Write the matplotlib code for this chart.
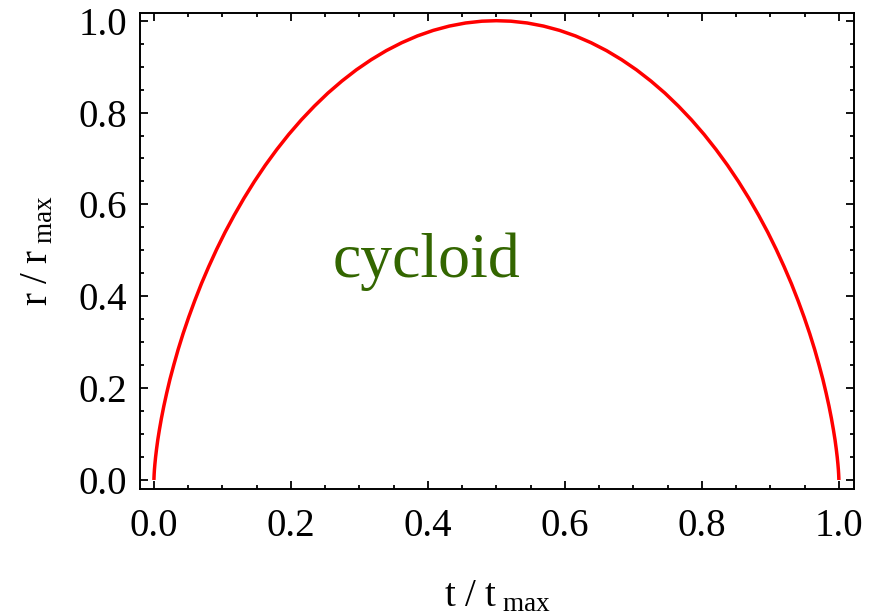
import matplotlib
matplotlib.use("Agg")
import matplotlib.pyplot as plt
from matplotlib.ticker import MultipleLocator

# valores (t / t_max, r / r_max)
t_vals = [0.0000, 0.0000, 0.0001, 0.0003, 0.0007, 0.0014, 0.0024, 0.0038, 0.0056, 0.0080,
          0.0109, 0.0144, 0.0186, 0.0234, 0.0291, 0.0354, 0.0426, 0.0507, 0.0596, 0.0693,
          0.0800, 0.0915, 0.1039, 0.1173, 0.1315, 0.1466, 0.1625, 0.1793, 0.1968, 0.2152,
          0.2343, 0.2540, 0.2745, 0.2955, 0.3171, 0.3392, 0.3617, 0.3846, 0.4078, 0.4313,
          0.4550, 0.4788, 0.5000,
          0.5212, 0.5450, 0.5687, 0.5922, 0.6154, 0.6383, 0.6608, 0.6829, 0.7045, 0.7255,
          0.7460, 0.7657, 0.7848, 0.8032, 0.8207, 0.8375, 0.8534, 0.8685, 0.8827, 0.8961,
          0.9085, 0.9200, 0.9307, 0.9404, 0.9493, 0.9574, 0.9646, 0.9709, 0.9766, 0.9814,
          0.9856, 0.9891, 0.9920, 0.9944, 0.9962, 0.9976, 0.9986, 0.9993, 0.9997, 0.9999,
          1.0000, 1.0000]
r_vals = [0.0000, 0.0014, 0.0056, 0.0126, 0.0223, 0.0347, 0.0498, 0.0673, 0.0873, 0.1097,
          0.1342, 0.1607, 0.1892, 0.2194, 0.2512, 0.2844, 0.3188, 0.3543, 0.3905, 0.4274,
          0.4646, 0.5021, 0.5396, 0.5768, 0.6136, 0.6498, 0.6851, 0.7194, 0.7524, 0.7841,
          0.8141, 0.8424, 0.8687, 0.8930, 0.9150, 0.9348, 0.9520, 0.9668, 0.9789, 0.9883,
          0.9950, 0.9989, 1.0000,
          0.9989, 0.9950, 0.9883, 0.9789, 0.9668, 0.9520, 0.9348, 0.9150, 0.8930, 0.8687,
          0.8424, 0.8141, 0.7841, 0.7524, 0.7194, 0.6851, 0.6498, 0.6136, 0.5768, 0.5396,
          0.5021, 0.4646, 0.4274, 0.3905, 0.3543, 0.3188, 0.2844, 0.2512, 0.2194, 0.1892,
          0.1607, 0.1342, 0.1097, 0.0873, 0.0673, 0.0498, 0.0347, 0.0223, 0.0126, 0.0056,
          0.0014, 0.0000]
x_ticks = [0.0, 0.2, 0.4, 0.6, 0.8, 1.0]
y_ticks = [0.0, 0.2, 0.4, 0.6, 0.8, 1.0]

plt.rcParams['font.family'] = ['Liberation Serif', 'DejaVu Serif']
plt.rcParams['mathtext.fontset'] = 'custom'
plt.rcParams['mathtext.rm'] = 'Liberation Serif'
plt.rcParams['mathtext.it'] = 'Liberation Serif:italic'

fig = plt.figure(figsize=(8.77, 6.15), dpi=100)
ax = fig.add_axes([0.1596, 0.2049, 0.8141, 0.774])

ax.plot(t_vals, r_vals, color='#ff0000', lw=2.5,
        solid_joinstyle='round', solid_capstyle='butt')

ax.set_xlim(-0.0204, 1.022)
ax.set_ylim(-0.0196, 1.0168)
ax.set_xticks(x_ticks)
ax.set_yticks(y_ticks)
ax.set_xticklabels([f"{v:.1f}" for v in x_ticks])
ax.set_yticklabels([f"{v:.1f}" for v in y_ticks])
ax.xaxis.set_minor_locator(MultipleLocator(0.05))
ax.yaxis.set_minor_locator(MultipleLocator(0.05))

ax.tick_params(which='both', direction='in', top=True, right=True, width=1.3, color='black')
ax.tick_params(which='major', length=6, labelsize=28)
ax.tick_params(which='minor', length=3)
ax.tick_params(axis='x', which='major', pad=14)
ax.tick_params(axis='y', which='major', pad=9)
for s in ax.spines.values():
    s.set_linewidth(1.4)

ax.set_xlabel(r'$\mathrm{t\ /\ t_{\ max}}$', fontsize=28, labelpad=24)
ax.set_ylabel(r'$\mathrm{r\ /\ r_{\ max}}$', fontsize=28, labelpad=16)

ax.text(0.3985, 0.442, 'cycloid', color='#336600', fontsize=46,
        ha='center', va='baseline')

fig.savefig('out.png', dpi=100)
